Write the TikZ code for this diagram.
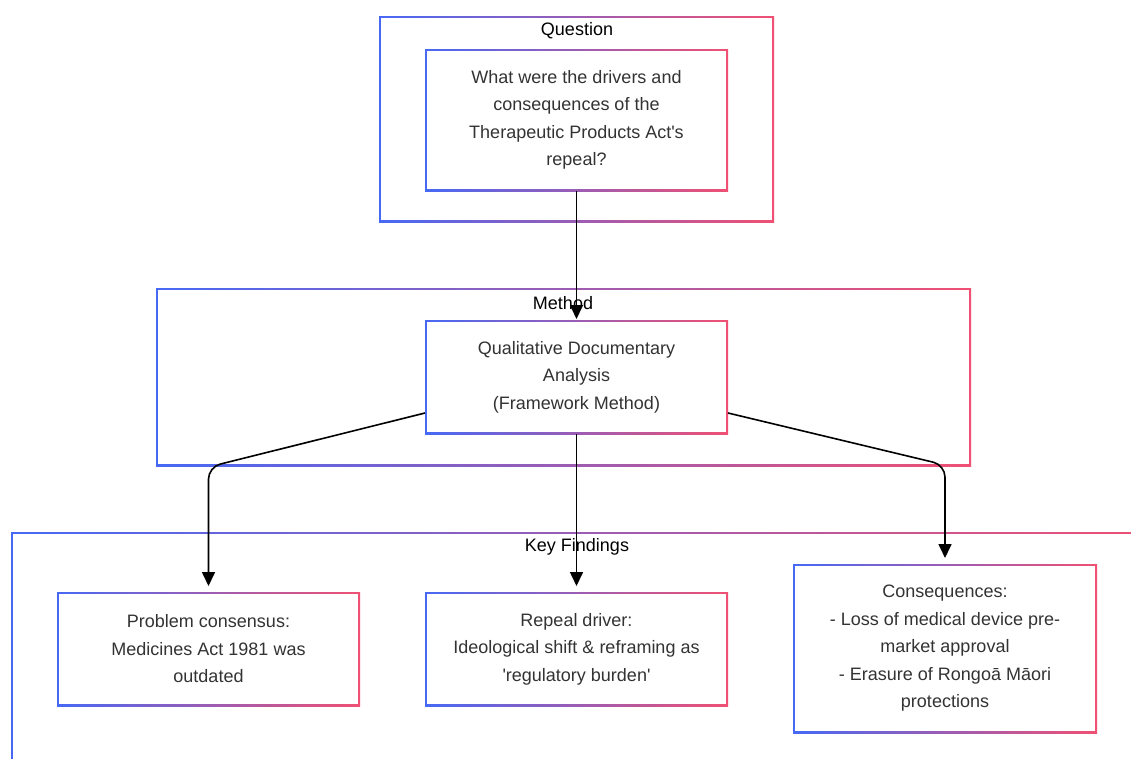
\documentclass[tikz,border=0pt]{standalone}
\usepackage{fontspec}
\setmainfont{Liberation Sans}
\usetikzlibrary{arrows.meta}
\definecolor{cB}{RGB}{70,105,245}
\definecolor{cR}{RGB}{240,80,115}
\definecolor{txt}{RGB}{51,51,51}
\begin{document}
\begin{tikzpicture}[x=1pt,y=-1pt,
  gbox/.style={rectangle, inner sep=0pt, outer sep=0pt, left color=cB, right color=cR,
    path picture={\fill[white] ([xshift=1.8pt,yshift=1.8pt]path picture bounding box.south west) rectangle ([xshift=-1.8pt,yshift=-1.8pt]path picture bounding box.north east);}},
  box/.style={gbox, text=txt, align=center, font=\fontsize{18}{27.5}\selectfont},
  cont/.style={gbox},
  lbl/.style={font=\fontsize{18}{22}\selectfont, text=black},
  conn/.style={line width=1.6pt, draw=black, -{Triangle[length=14pt,width=13pt]}, rounded corners=12pt}]
\useasboundingbox (0,0) rectangle (1131,758);
\clip (0,0) rectangle (1131,758);
\fill[white] (0,0) rectangle (1131,758);
% containers
\node[cont, minimum width=395pt, minimum height=206pt] (qc) at (576.5,119) {};
\node[cont, minimum width=815pt, minimum height=178pt] (mc) at (563.5,377) {};
\node[cont, minimum width=1149pt, minimum height=258pt] (kc) at (585.5,661) {};
% labels
\node[lbl] (ql) at (577,31) {Question};
\node[lbl] (ml) at (563,303) {Method};
\node[lbl] (kl) at (577,547) {Key Findings};
% nodes
\node[box, minimum width=303pt, minimum height=142pt] (qn) at (576.5,120)
  {What were the drivers and\\consequences of the\\Therapeutic Products Act\textquotesingle s\\repeal?};
\node[box, minimum width=303pt, minimum height=114pt] (mn) at (576.5,377)
  {Qualitative Documentary\\Analysis\\(Framework Method)};
\node[box, minimum width=303pt, minimum height=114pt] (pn) at (208.5,649)
  {Problem consensus:\\Medicines Act 1981 was\\outdated};
\node[box, minimum width=303pt, minimum height=114pt] (rn) at (576.5,649)
  {Repeal driver:\\Ideological shift \& reframing as\\\textquotesingle regulatory burden\textquotesingle};
\node[box, minimum width=304pt, minimum height=169pt] (cn) at (945,648.5)
  {Consequences:\\- Loss of medical device pre-\\market approval\\- Erasure of Rongoā Māori\\protections};
% connectors
\draw[conn, shorten >=1pt] (qn.south) -- (mn.north);
\draw[conn, shorten >=6pt] ([yshift=21pt]mn.south west) -- (pn.north |- 0,467) -- (pn.north);
\draw[conn, shorten >=6pt] (mn.south) -- (rn.north);
\draw[conn, shorten >=6pt] ([yshift=21pt]mn.south east) -- (cn.north |- 0,465) -- (cn.north);
\end{tikzpicture}
\end{document}
